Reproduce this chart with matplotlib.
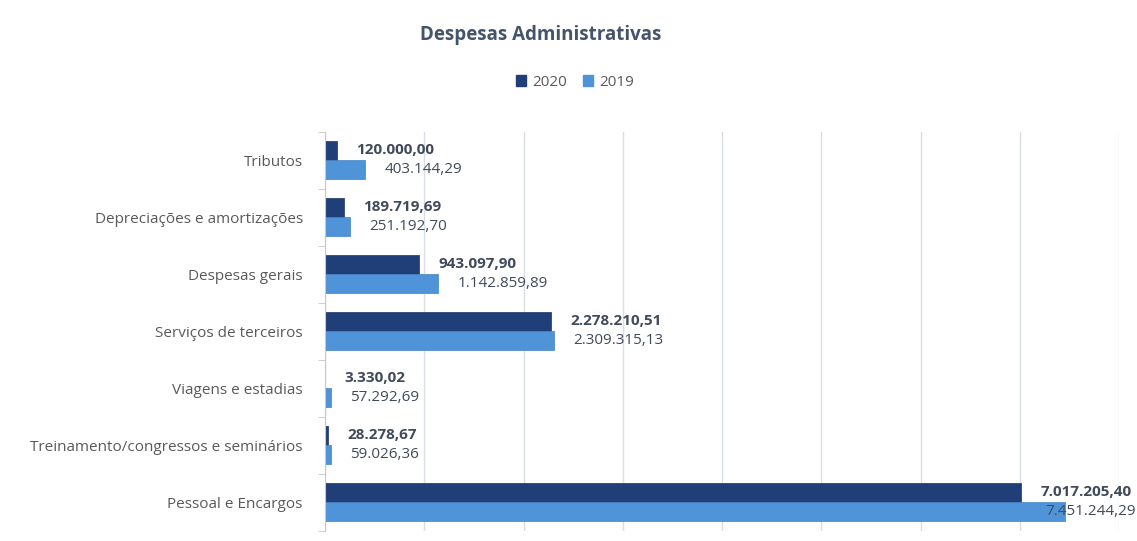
import numpy as np
import matplotlib.pyplot as plt
from matplotlib.patches import Patch

categorias = ['Tributos', 'Depreciações e amortizações', 'Despesas gerais',
              'Serviços de terceiros', 'Viagens e estadias',
              'Treinamento/congressos e seminários', 'Pessoal e Encargos']
v2020 = [120000.00, 189719.69, 943097.90, 2278210.51, 3330.02, 28278.67, 7017205.40]
v2019 = [403144.29, 251192.70, 1142859.89, 2309315.13, 57292.69, 59026.36, 7451244.29]

cor2020 = '#203f78'
cor2019 = '#4f93d8'
texto = '#404a5a'


def br(v):
    s = f'{v:,.2f}'
    return s.replace(',', 'X').replace('.', ',').replace('X', '.')


plt.rcParams['font.family'] = ['Open Sans', 'DejaVu Sans']

fig = plt.figure(figsize=(11.37, 5.41), dpi=100)
ax = fig.add_axes([325/1137, 1 - 530.5/541, (1119 - 325)/1137, 399/541])

y = np.arange(len(categorias))
h = 0.335
ax.barh(y - h/2, v2020, height=h, color=cor2020, edgecolor='#1a3566', linewidth=0.5, zorder=2)
ax.barh(y + h/2, v2019, height=h, color=cor2019, edgecolor='#4282c4', linewidth=0.5, zorder=2)

for i in range(len(categorias)):
    ax.annotate(br(v2020[i]), (v2020[i], y[i] - h/2), xytext=(14, 0), textcoords='offset points',
                va='center', ha='left', fontsize=11, fontweight='bold', color=texto, zorder=3,
                annotation_clip=False)
    if i == len(categorias) - 1:
        # rótulo que não cabe: fica sobre a barra, encostado na borda
        ax.annotate(br(v2019[i]), (1136/1137, y[i] + h/2), xycoords=('figure fraction', 'data'),
                    va='center', ha='right', fontsize=11, color=texto, zorder=3,
                    annotation_clip=False)
    else:
        ax.annotate(br(v2019[i]), (v2019[i], y[i] + h/2), xytext=(14, 0), textcoords='offset points',
                    va='center', ha='left', fontsize=11, color=texto, zorder=3)

ax.set_xlim(0, 8000000)
ax.set_ylim(len(categorias) - 0.5, -0.5)
ax.set_xticks(np.arange(0, 8000001, 1000000))
ax.xaxis.grid(True, color='#d9dde6', linewidth=1, zorder=0)
ax.tick_params(axis='x', length=0, labelbottom=False)
ax.set_yticks(y)
ax.set_yticklabels(categorias, fontsize=11, color='#595959')
ax.set_yticks(np.arange(-0.5, len(categorias)), minor=True)
ax.tick_params(axis='y', which='major', length=0, pad=16)
ax.tick_params(axis='y', which='minor', length=5, color='#c8c8c8')
for s in ['top', 'right', 'bottom']:
    ax.spines[s].set_visible(False)
ax.spines['left'].set_color('#c8c8c8')

fig.text(541/1137, 1 - 35/541, 'Despesas Administrativas', ha='center', va='center',
         fontsize=13.5, fontweight='bold', color='#44546a')
fig.legend(handles=[Patch(color=cor2020, label='2020'), Patch(color=cor2019, label='2019')],
           loc='center', bbox_to_anchor=(575/1137, 1 - 82/541), ncol=2, frameon=False,
           fontsize=11, handlelength=0.7, handleheight=0.7, handletextpad=0.4,
           columnspacing=1.0, labelcolor='#595959')

fig.savefig('out.png', dpi=100)
